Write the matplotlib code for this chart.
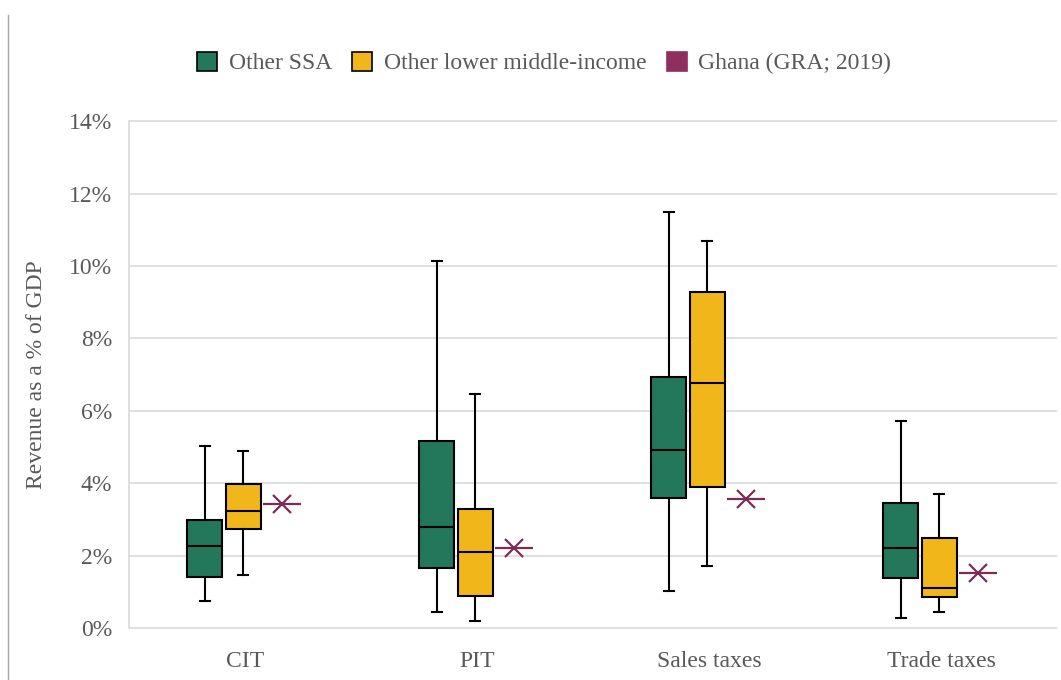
import matplotlib
matplotlib.use("Agg")
import matplotlib.pyplot as plt
from matplotlib.patches import Patch
from matplotlib.lines import Line2D
from matplotlib.ticker import PercentFormatter

categories = ["CIT", "PIT", "Sales taxes", "Trade taxes"]

ssa_whislo = [0.75, 0.44, 1.01, 0.29]
ssa_q1 = [1.41, 1.66, 3.59, 1.39]
ssa_med = [2.26, 2.79, 4.92, 2.20]
ssa_q3 = [2.98, 5.16, 6.93, 3.46]
ssa_whishi = [5.03, 10.13, 11.50, 5.72]

lmi_whislo = [1.46, 0.20, 1.70, 0.44]
lmi_q1 = [2.73, 0.89, 3.90, 0.85]
lmi_med = [3.23, 2.11, 6.78, 1.10]
lmi_q3 = [3.98, 3.28, 9.29, 2.49]
lmi_whishi = [4.89, 6.47, 10.68, 3.69]

ghana = [3.42, 2.22, 3.56, 1.51]

series_names = ["Other SSA", "Other lower middle-income", "Ghana (GRA; 2019)"]
c_ssa = "#23775A"
c_lmi = "#F1B71A"
c_gh = "#7A2C56"
c_gh_leg = "#8E2F5E"
txt = "#595959"
grid_c = "#D9D9D9"

plt.rcParams["font.family"] = ["Liberation Serif", "DejaVu Serif"]

fig = plt.figure(figsize=(10.61, 6.8), dpi=100)
ax = fig.add_axes([129 / 1061, (680 - 629.1) / 680, 928 / 1061, 509 / 680])

def stats(lo, q1, med, q3, hi):
    return [dict(whislo=a, q1=b, med=c, q3=d, whishi=e, fliers=[])
            for a, b, c, d, e in zip(lo, q1, med, q3, hi)]

off_ssa, off_lmi, off_gh = -0.173, -0.008, 0.16
bw = 0.15
xs = list(range(len(categories)))

common = dict(widths=bw, patch_artist=True, showfliers=False,
              capwidths=0.045,
              medianprops=dict(color="black", lw=1.5),
              whiskerprops=dict(color="black", lw=1.5),
              capprops=dict(color="black", lw=1.5))

ax.bxp(stats(ssa_whislo, ssa_q1, ssa_med, ssa_q3, ssa_whishi),
       positions=[x + off_ssa for x in xs],
       boxprops=dict(facecolor=c_ssa, edgecolor="black", lw=1.5), **common)
ax.bxp(stats(lmi_whislo, lmi_q1, lmi_med, lmi_q3, lmi_whishi),
       positions=[x + off_lmi for x in xs],
       boxprops=dict(facecolor=c_lmi, edgecolor="black", lw=1.5), **common)

gx = [x + off_gh for x in xs]
ax.plot(gx, ghana, ls="none", marker="_", ms=28, mew=1.6, color=c_gh, zorder=5)
ax.plot(gx, ghana, ls="none", marker="x", ms=12.5, mew=1.6, color=c_gh, zorder=5)

ax.set_xlim(-0.5, 3.5)
ax.set_ylim(-0.03, 14.03)
ax.set_yticks(range(0, 15, 2))
ax.yaxis.set_major_formatter(PercentFormatter(xmax=100, decimals=0))
ax.set_xticks(xs)
ax.set_xticklabels(categories)
ax.tick_params(axis="both", length=0, labelsize=17, labelcolor=txt)
ax.tick_params(axis="y", pad=12)
ax.tick_params(axis="x", pad=16)
ax.yaxis.grid(True, color=grid_c, lw=1.2)
ax.set_axisbelow(True)
for s in ["top", "right", "bottom"]:
    ax.spines[s].set_visible(False)
ax.spines["left"].set_color(grid_c)
ax.spines["left"].set_linewidth(1.2)
ax.spines["left"].set_bounds(0, 14)

fig.text(37 / 1061, 1 - 375 / 680, "Revenue as a % of GDP", rotation=90,
         ha="center", va="center", fontsize=17, color=txt)

handles = [Patch(facecolor=c_ssa, edgecolor="black", lw=1.2),
           Patch(facecolor=c_lmi, edgecolor="black", lw=1.2),
           Patch(facecolor=c_gh_leg, edgecolor=c_gh_leg, lw=1.2)]
leg = fig.legend(handles, series_names, loc="center", bbox_to_anchor=(544 / 1061, 1 - 63 / 680),
                 ncol=3, frameon=False, fontsize=17, handlelength=0.85, handleheight=0.85,
                 handletextpad=0.5, columnspacing=0.85)
for t in leg.get_texts():
    t.set_color(txt)

fig.add_artist(Line2D([8 / 1061, 8 / 1061], [0, 1 - 15 / 680], color="#A6A6A6", lw=1.0))

fig.savefig("out.png", dpi=100)
